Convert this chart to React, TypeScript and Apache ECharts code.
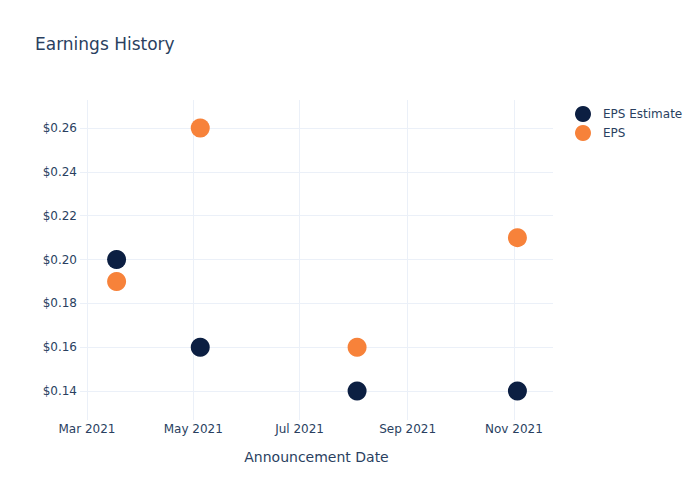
import React, { useEffect, useRef } from "react";
import * as echarts from "echarts";

const announcementDates: string[] = ["2021-03-18", "2021-05-05", "2021-08-03", "2021-11-03"];
const epsEstimate: number[] = [0.2, 0.16, 0.14, 0.14];
const epsActual: number[] = [0.19, 0.26, 0.16, 0.21];
const xTickDates: string[] = ["2021-03-01", "2021-05-01", "2021-07-01", "2021-09-01", "2021-11-01"];
const yTicks: number[] = [0.14, 0.16, 0.18, 0.2, 0.22, 0.24, 0.26];
const xRange: string[] = ["2021-02-25", "2021-11-23T10:00:00"];
const yRange: number[] = [0.1268, 0.2728];

const MONTHS = ["Jan", "Feb", "Mar", "Apr", "May", "Jun", "Jul", "Aug", "Sep", "Oct", "Nov", "Dec"];
const ts = (s: string) => new Date(s + (s.includes("T") ? "Z" : "T00:00:00Z")).getTime();

export default function App() {
  const ref = useRef<HTMLDivElement>(null);
  useEffect(() => {
    if (!ref.current) return;
    const chart = echarts.init(ref.current, null, { renderer: "svg" });
    const textColor = "#2a3f5f";
    const gridColor = "#EBF0F8";
    const font = "'DejaVu Sans', verdana, arial, sans-serif";
    const xTicks = xTickDates.map(ts);
    chart.setOption({
      animation: false,
      backgroundColor: "#ffffff",
      textStyle: { fontFamily: font },
      title: {
        text: "Earnings History",
        left: 35,
        top: 35,
        padding: 0,
        textStyle: { fontSize: 17, fontWeight: "normal", color: textColor, fontFamily: font },
      },
      legend: {
        orient: "vertical",
        left: 575,
        top: 106,
        padding: 0,
        itemWidth: 16,
        itemHeight: 16,
        itemGap: 3,
        icon: "circle",
        textStyle: { fontSize: 12, color: textColor, fontFamily: font, padding: [0, 0, 0, 7] },
        data: ["EPS Estimate", "EPS"],
      },
      grid: { left: 80, right: 147, top: 100, bottom: 80, containLabel: false },
      xAxis: {
        type: "value",
        min: ts(xRange[0]),
        max: ts(xRange[1]),
        name: "Announcement Date",
        nameLocation: "middle",
        nameGap: 30,
        nameTextStyle: { fontSize: 14, color: textColor, fontFamily: font },
        axisLine: { show: false },
        axisTick: { show: false, customValues: xTicks },
        axisLabel: {
          customValues: xTicks,
          color: textColor,
          fontSize: 12,
          margin: 3,
          fontFamily: font,
          formatter: (v: number) => {
            const d = new Date(v);
            return MONTHS[d.getUTCMonth()] + " " + d.getUTCFullYear();
          },
        },
        splitLine: { show: true, lineStyle: { color: gridColor, width: 1 } },
      },
      yAxis: {
        type: "value",
        min: yRange[0],
        max: yRange[1],
        axisLine: { show: false },
        axisTick: { show: false, customValues: yTicks },
        axisLabel: {
          customValues: yTicks,
          color: textColor,
          fontSize: 12,
          margin: 3,
          fontFamily: font,
          formatter: (v: number) => "$" + v.toFixed(2),
        },
        splitLine: { show: true, lineStyle: { color: gridColor, width: 1 } },
      },
      series: [
        {
          name: "EPS Estimate",
          type: "scatter",
          symbol: "circle",
          symbolSize: 19,
          itemStyle: { color: "#0C1F42", opacity: 1 },
          data: announcementDates.map((d, i) => [ts(d), epsEstimate[i]]),
        },
        {
          name: "EPS",
          type: "scatter",
          symbol: "circle",
          symbolSize: 19,
          itemStyle: { color: "#F7823A", opacity: 1 },
          data: announcementDates.map((d, i) => [ts(d), epsActual[i]]),
        },
      ],
    });
    return () => chart.dispose();
  }, []);
  return <div ref={ref} style={{ width: 700, height: 500, position: "absolute", left: 0, top: 0 }} />;
}
